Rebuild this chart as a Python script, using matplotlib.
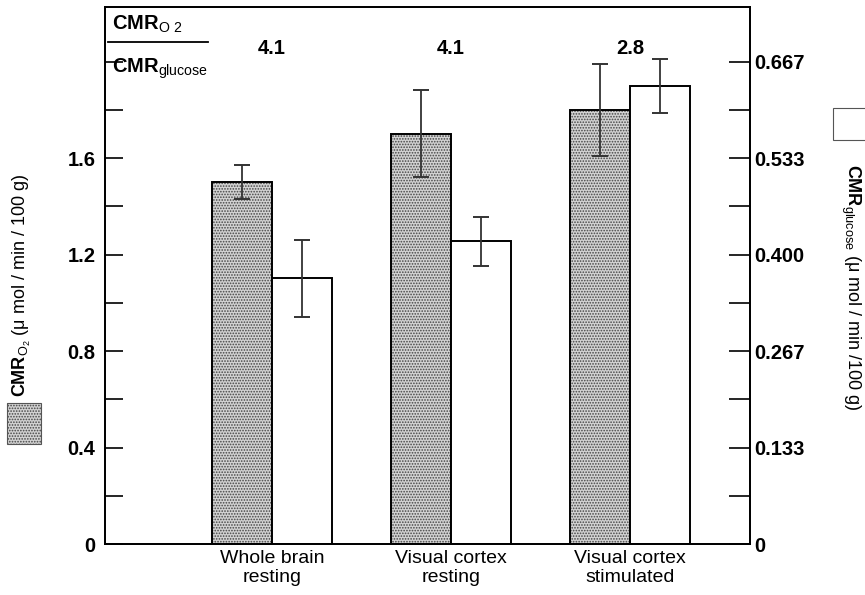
import numpy as np
import matplotlib
matplotlib.use("Agg")
import matplotlib.pyplot as plt
from matplotlib import font_manager
from matplotlib.patches import Rectangle
from matplotlib.lines import Line2D

# conditions and measured rates (mean +/- error)
conditions = ["Whole brain\nresting", "Visual cortex\nresting", "Visual cortex\nstimulated"]
cmr_o2 = [1.50, 1.70, 1.80]            # µmol / min / 100 g, left axis
cmr_o2_err = [0.07, 0.18, 0.19]
cmr_glucose = [0.367, 0.418, 0.633]    # µmol / min / 100 g, right axis
cmr_glucose_err = [0.053, 0.034, 0.037]
ratios = ["4.1", "4.1", "2.8"]

left_ticks = [0, 0.4, 0.8, 1.2, 1.6, 2.0]
left_ticklabels = ["0", "0.4", "0.8", "1.2", "1.6", ""]
left_minor = [0.2, 0.6, 1.0, 1.4, 1.8]
right_ticklabels = ["0", "0.133", "0.267", "0.400", "0.533", "0.667"]
scale = 3.0   # CMRO2 / CMRglc axis ratio

names = {f.name for f in font_manager.fontManager.ttflist}
narrow = "Liberation Sans Narrow" if "Liberation Sans Narrow" in names else "Liberation Sans"
plt.rcParams["font.family"] = [narrow, "Liberation Sans", "DejaVu Sans"]
plt.rcParams["mathtext.fontset"] = "custom"
plt.rcParams["mathtext.rm"] = narrow
plt.rcParams["mathtext.bf"] = narrow + ":bold"
plt.rcParams["hatch.linewidth"] = 0.8

STIPPLE_FACE = "#d2d2d2"
STIPPLE_DOTS = "#454545"


def stipple_rect(xy, w, h, **kw):
    return Rectangle(xy, w, h, facecolor=STIPPLE_FACE, edgecolor=STIPPLE_DOTS,
                     hatch="......", linewidth=0, **kw)


fig = plt.figure(figsize=(8.65, 5.95), dpi=100)
ax = fig.add_axes([105 / 865, 1 - 544 / 595, 645 / 865, 537 / 595])
ax2 = ax.twinx()

x = np.arange(1, len(conditions) + 1)
w = 0.335
ymax = 2.226

# oxygen bars (stippled) on the left scale
ax.bar(x - w / 2, cmr_o2, w, color=STIPPLE_FACE, edgecolor=STIPPLE_DOTS,
       hatch="......", linewidth=0, zorder=2)
ax.bar(x - w / 2, cmr_o2, w, fill=False, edgecolor="black", linewidth=1.4, zorder=3)
ax.errorbar(x - w / 2, cmr_o2, yerr=cmr_o2_err, fmt="none", ecolor="#333333",
            elinewidth=1.3, capsize=5.5, capthick=1.4, zorder=4)

# glucose bars (open) on the right scale
ax2.bar(x + w / 2, cmr_glucose, w, facecolor="white", edgecolor="black",
        linewidth=1.4, zorder=2)
ax2.errorbar(x + w / 2, cmr_glucose, yerr=cmr_glucose_err, fmt="none",
             ecolor="#333333", elinewidth=1.3, capsize=5.5, capthick=1.4, zorder=4)

ax.set_xlim(0.067, 3.67)
ax.set_ylim(0, ymax)
ax2.set_ylim(0, ymax / scale)

ax.set_xticks(x)
ax.set_xticklabels(conditions, fontsize=14, linespacing=1.2)
ax.tick_params(axis="x", length=0, pad=4)

ax.set_yticks(left_ticks)
ax.set_yticklabels(left_ticklabels, fontsize=14.5, fontweight="bold",
                   family="Liberation Sans")
ax.set_yticks(left_minor, minor=True)
ax.tick_params(axis="y", which="both", direction="in", length=13, width=1.2, pad=7)

ax2.set_yticks(np.array(left_ticks) / scale)
ax2.set_yticklabels(right_ticklabels, fontsize=14.5, fontweight="bold",
                    family="Liberation Sans")
ax2.set_yticks(np.array(left_minor) / scale, minor=True)
ax2.tick_params(axis="y", which="both", direction="in", length=15, width=1.2, pad=3)

for a in (ax, ax2):
    for s in a.spines.values():
        s.set_linewidth(1.3)

# CMRO2 / CMRglc ratio above each group
for xi, r in zip(x, ratios):
    ax.text(xi, 2.055, r, ha="center", va="center", fontsize=14.5,
            fontweight="bold", family="Liberation Sans")

ax.text(0.011, 0.968, r"$\mathbf{CMR}_{\mathrm{O\ 2}}$", transform=ax.transAxes,
        ha="left", va="center", fontsize=14.5)
ax.add_line(Line2D([0.004, 0.16], [0.935, 0.935], transform=ax.transAxes,
                   color="black", linewidth=1.3))
ax.text(0.011, 0.885, r"$\mathbf{CMR}_{\mathrm{glucose}}$", transform=ax.transAxes,
        ha="left", va="center", fontsize=14.5)

# axis titles with their legend swatches
fig.text(22 / 865, 1 - 285 / 595, r"$\mathbf{CMR}_{\mathrm{O_2}}$ (μ mol / min / 100 g)",
         rotation=90, ha="center", va="center", fontsize=13)
fig.add_artist(stipple_rect((7 / 865, 1 - 444 / 595), 34 / 865, 41 / 595,
                            transform=fig.transFigure))
fig.add_artist(Rectangle((7 / 865, 1 - 444 / 595), 34 / 865, 41 / 595, fill=False,
                         edgecolor="#555555", linewidth=0.8, transform=fig.transFigure))

fig.text(851 / 865, 1 - 287 / 595, r"$\mathbf{CMR}_{\mathrm{glucose}}$ (μ mol / min /100 g)",
         rotation=270, ha="center", va="center", fontsize=13)
fig.add_artist(Rectangle((833 / 865, 1 - 140 / 595), 40 / 865, 32 / 595,
                         facecolor="white", edgecolor="#555555", linewidth=0.8,
                         transform=fig.transFigure))

fig.savefig("out.png", dpi=100)
